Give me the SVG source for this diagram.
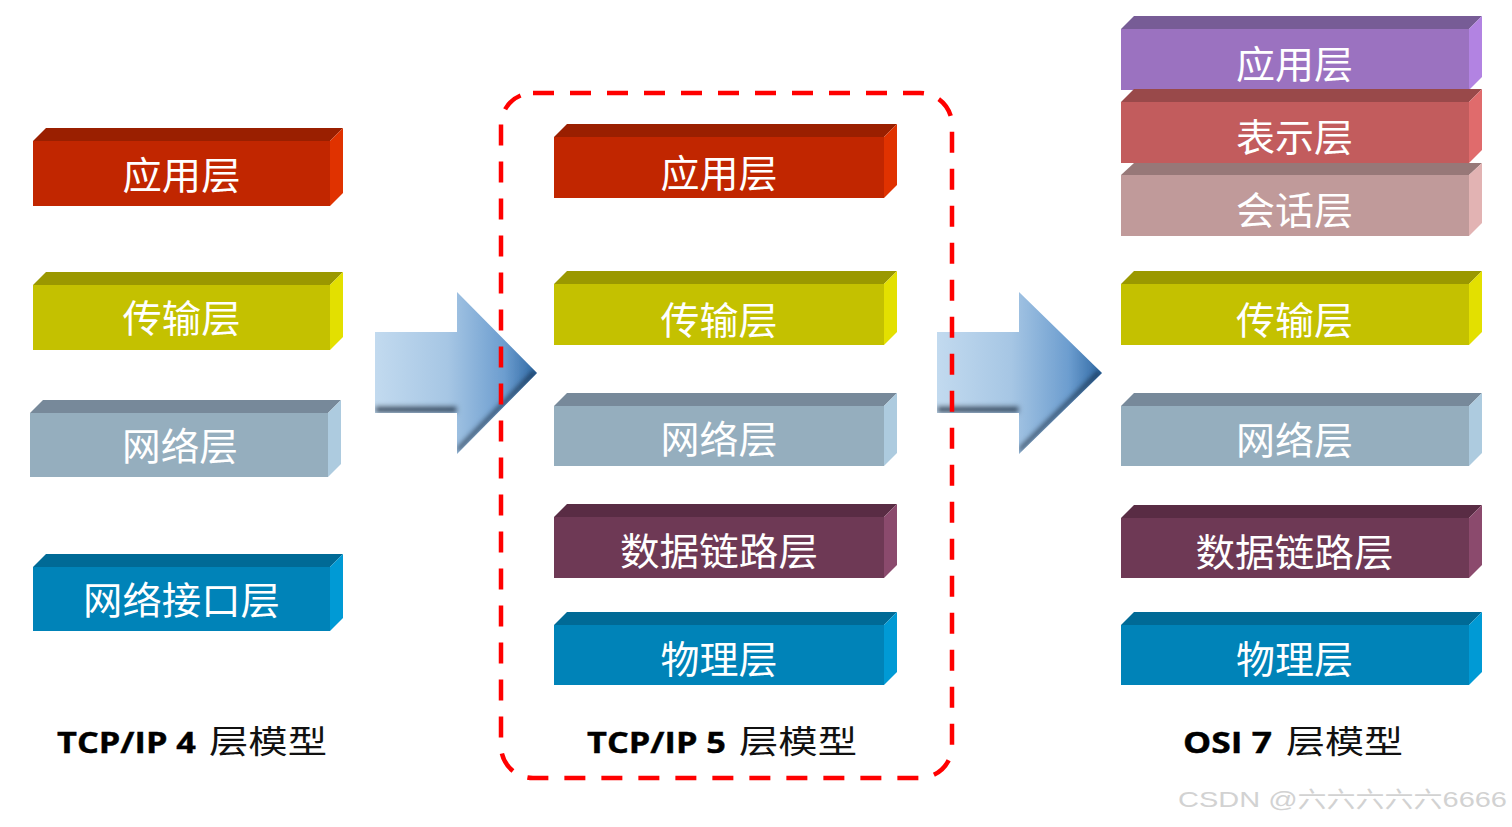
<svg xmlns="http://www.w3.org/2000/svg" width="1512" height="827" viewBox="0 0 1512 827">
<style>
.t{font-family:"Noto Sans CJK SC","Noto Sans CJK JP",sans-serif;font-size:38px;fill:#ffffff;text-anchor:middle}
.lat{font-family:"Open Sans","Liberation Sans",sans-serif;font-weight:bold;font-size:29px;fill:#000;stroke:#000;stroke-width:0.4}
.cjk{font-family:"Noto Sans CJK SC",sans-serif;font-weight:normal;font-size:32px;fill:#111;stroke:none}
.red .f{fill:#C12600}.red .tp{fill:#9A1F00}.red .s{fill:#E03200}
.yel .f{fill:#C4C100}.yel .tp{fill:#9A9800}.yel .s{fill:#E3E000}
.gry .f{fill:#95AEBE}.gry .tp{fill:#77899A}.gry .s{fill:#ADCBDF}
.plm .f{fill:#6E3955}.plm .tp{fill:#592C44}.plm .s{fill:#8B4A6D}
.blu .f{fill:#0083B8}.blu .tp{fill:#006A96}.blu .s{fill:#009AD5}
.vio .f{fill:#9B72C0}.vio .tp{fill:#775C96}.vio .s{fill:#B283E2}
.ros .f{fill:#C25C5D}.ros .tp{fill:#99494A}.ros .s{fill:#E06B6C}
.pnk .f{fill:#C09A9A}.pnk .tp{fill:#977878}.pnk .s{fill:#E2B3B3}
</style>
<defs>
<linearGradient id="ag1" gradientUnits="userSpaceOnUse" x1="375" y1="0" x2="537" y2="0">
<stop offset="0" stop-color="#C2DAEF"/><stop offset="0.45" stop-color="#A6C6E4"/><stop offset="0.8" stop-color="#6C9DCF"/><stop offset="1" stop-color="#2F68A3"/>
</linearGradient>
<linearGradient id="ag2" gradientUnits="userSpaceOnUse" x1="937" y1="0" x2="1102" y2="0">
<stop offset="0" stop-color="#C2DAEF"/><stop offset="0.45" stop-color="#A6C6E4"/><stop offset="0.8" stop-color="#6C9DCF"/><stop offset="1" stop-color="#2F68A3"/>
</linearGradient>
<filter id="inner" x="-10%" y="-10%" width="120%" height="120%">
<feOffset in="SourceAlpha" dx="0" dy="-7" result="off"/>
<feComposite in="SourceAlpha" in2="off" operator="out" result="edge"/>
<feGaussianBlur in="edge" stdDeviation="2.5" result="blur"/>
<feFlood flood-color="#1C3550" flood-opacity="0.95"/>
<feComposite in2="blur" operator="in" result="sh"/>
<feComposite in="sh" in2="SourceAlpha" operator="in" result="clip"/>
<feMerge><feMergeNode in="SourceGraphic"/><feMergeNode in="clip"/></feMerge>
</filter>
</defs>
<rect width="1512" height="827" fill="#ffffff"/>

<!-- Left column: TCP/IP 4 -->
<g id="l4-app" class="red">
<polygon class="tp" points="33,141 46,128 343,128 330,141"/>
<polygon class="s" points="330,141 343,128 343,193 330,206"/>
<rect class="f" x="33" y="141" width="297" height="65"/>
<text class="t" x="181.5" y="189" textLength="118" lengthAdjust="spacingAndGlyphs">应用层</text>
</g>
<g id="l4-trans" class="yel">
<polygon class="tp" points="33,285 46,272 343,272 330,285"/>
<polygon class="s" points="330,285 343,272 343,337 330,350"/>
<rect class="f" x="33" y="285" width="297" height="65"/>
<text class="t" x="181.5" y="332" textLength="118" lengthAdjust="spacingAndGlyphs">传输层</text>
</g>
<g id="l4-net" class="gry">
<polygon class="tp" points="30,413 43,400 341,400 328,413"/>
<polygon class="s" points="328,413 341,400 341,464 328,477"/>
<rect class="f" x="30" y="413" width="298" height="64"/>
<text class="t" x="180" y="460" textLength="116" lengthAdjust="spacingAndGlyphs">网络层</text>
</g>
<g id="l4-if" class="blu">
<polygon class="tp" points="33,567 46,554 343,554 330,567"/>
<polygon class="s" points="330,567 343,554 343,618 330,631"/>
<rect class="f" x="33" y="567" width="297" height="64"/>
<text class="t" x="181.5" y="614" textLength="197" lengthAdjust="spacingAndGlyphs">网络接口层</text>
</g>
<g id="l4-label">
<text x="57" y="753"><tspan class="lat" textLength="139" lengthAdjust="spacingAndGlyphs">TCP/IP 4</tspan> <tspan class="cjk" x="209" textLength="118" lengthAdjust="spacingAndGlyphs">层模型</tspan></text>
</g>

<!-- Connectors -->
<g id="connectors">
<polygon points="375,332 457,332 457,292 537,373 457,454 457,413 375,413" fill="url(#ag1)" filter="url(#inner)"/>
<polygon points="937,332 1019,332 1019,292 1102,373 1019,454 1019,413 937,413" fill="url(#ag2)" filter="url(#inner)"/>
</g>

<!-- Middle column: TCP/IP 5 -->
<g id="frame">
<rect x="501" y="93" width="451" height="685" rx="32" ry="32" fill="none" stroke="#FF0000" stroke-width="4.5" stroke-dasharray="21 16"/>
</g>
<g id="l5-app" class="red">
<polygon class="tp" points="554,137 567,124 897,124 884,137"/>
<polygon class="s" points="884,137 897,124 897,185 884,198"/>
<rect class="f" x="554" y="137" width="330" height="61"/>
<text class="t" x="719" y="187" textLength="117" lengthAdjust="spacingAndGlyphs">应用层</text>
</g>
<g id="l5-trans" class="yel">
<polygon class="tp" points="554,284 567,271 897,271 884,284"/>
<polygon class="s" points="884,284 897,271 897,332 884,345"/>
<rect class="f" x="554" y="284" width="330" height="61"/>
<text class="t" x="719" y="334" textLength="117" lengthAdjust="spacingAndGlyphs">传输层</text>
</g>
<g id="l5-net" class="gry">
<polygon class="tp" points="554,406 567,393 897,393 884,406"/>
<polygon class="s" points="884,406 897,393 897,453 884,466"/>
<rect class="f" x="554" y="406" width="330" height="60"/>
<text class="t" x="719" y="453" textLength="117" lengthAdjust="spacingAndGlyphs">网络层</text>
</g>
<g id="l5-link" class="plm">
<polygon class="tp" points="554,517 567,504 897,504 884,517"/>
<polygon class="s" points="884,517 897,504 897,565 884,578"/>
<rect class="f" x="554" y="517" width="330" height="61"/>
<text class="t" x="719" y="565" textLength="198" lengthAdjust="spacingAndGlyphs">数据链路层</text>
</g>
<g id="l5-phy" class="blu">
<polygon class="tp" points="554,625 567,612 897,612 884,625"/>
<polygon class="s" points="884,625 897,612 897,672 884,685"/>
<rect class="f" x="554" y="625" width="330" height="60"/>
<text class="t" x="719" y="673" textLength="117" lengthAdjust="spacingAndGlyphs">物理层</text>
</g>
<g id="l5-label">
<text x="587" y="753"><tspan class="lat" textLength="139" lengthAdjust="spacingAndGlyphs">TCP/IP 5</tspan> <tspan class="cjk" x="739" textLength="118" lengthAdjust="spacingAndGlyphs">层模型</tspan></text>
</g>

<!-- Right column: OSI 7 -->
<g id="o7-app" class="vio">
<polygon class="tp" points="1121,29 1134,16 1482,16 1469,29"/>
<polygon class="s" points="1469,29 1482,16 1482,77 1469,90"/>
<rect class="f" x="1121" y="29" width="348" height="61"/>
<text class="t" x="1294.5" y="78" textLength="117" lengthAdjust="spacingAndGlyphs">应用层</text>
</g>
<g id="o7-pres" class="ros">
<polygon class="tp" points="1121,102 1134,89 1482,89 1469,102"/>
<polygon class="s" points="1469,102 1482,89 1482,150 1469,163"/>
<rect class="f" x="1121" y="102" width="348" height="61"/>
<text class="t" x="1294.5" y="151" textLength="117" lengthAdjust="spacingAndGlyphs">表示层</text>
</g>
<g id="o7-sess" class="pnk">
<polygon class="tp" points="1121,175 1134,163 1482,163 1469,175"/>
<polygon class="s" points="1469,175 1482,163 1482,223 1469,236"/>
<rect class="f" x="1121" y="175" width="348" height="61"/>
<text class="t" x="1294.5" y="224" textLength="117" lengthAdjust="spacingAndGlyphs">会话层</text>
</g>
<g id="o7-trans" class="yel">
<polygon class="tp" points="1121,284 1134,271 1482,271 1469,284"/>
<polygon class="s" points="1469,284 1482,271 1482,332 1469,345"/>
<rect class="f" x="1121" y="284" width="348" height="61"/>
<text class="t" x="1294.5" y="334" textLength="117" lengthAdjust="spacingAndGlyphs">传输层</text>
</g>
<g id="o7-net" class="gry">
<polygon class="tp" points="1121,406 1134,393 1482,393 1469,406"/>
<polygon class="s" points="1469,406 1482,393 1482,453 1469,466"/>
<rect class="f" x="1121" y="406" width="348" height="60"/>
<text class="t" x="1294.5" y="454" textLength="117" lengthAdjust="spacingAndGlyphs">网络层</text>
</g>
<g id="o7-link" class="plm">
<polygon class="tp" points="1121,518 1134,505 1482,505 1469,518"/>
<polygon class="s" points="1469,518 1482,505 1482,565 1469,578"/>
<rect class="f" x="1121" y="518" width="348" height="60"/>
<text class="t" x="1294.5" y="566" textLength="198" lengthAdjust="spacingAndGlyphs">数据链路层</text>
</g>
<g id="o7-phy" class="blu">
<polygon class="tp" points="1121,625 1134,612 1482,612 1469,625"/>
<polygon class="s" points="1469,625 1482,612 1482,672 1469,685"/>
<rect class="f" x="1121" y="625" width="348" height="60"/>
<text class="t" x="1294.5" y="673" textLength="117" lengthAdjust="spacingAndGlyphs">物理层</text>
</g>
<g id="o7-label">
<text x="1183" y="753"><tspan class="lat" textLength="89" lengthAdjust="spacingAndGlyphs">OSI 7</tspan> <tspan class="cjk" x="1286" textLength="117" lengthAdjust="spacingAndGlyphs">层模型</tspan></text>
</g>

<g id="watermark">
<text x="1178" y="807" font-family="'Liberation Sans','Noto Sans CJK SC',sans-serif" font-size="22" fill="#D2D2D2" textLength="329" lengthAdjust="spacingAndGlyphs">CSDN @六六六六六6666</text>
</g>
</svg>
